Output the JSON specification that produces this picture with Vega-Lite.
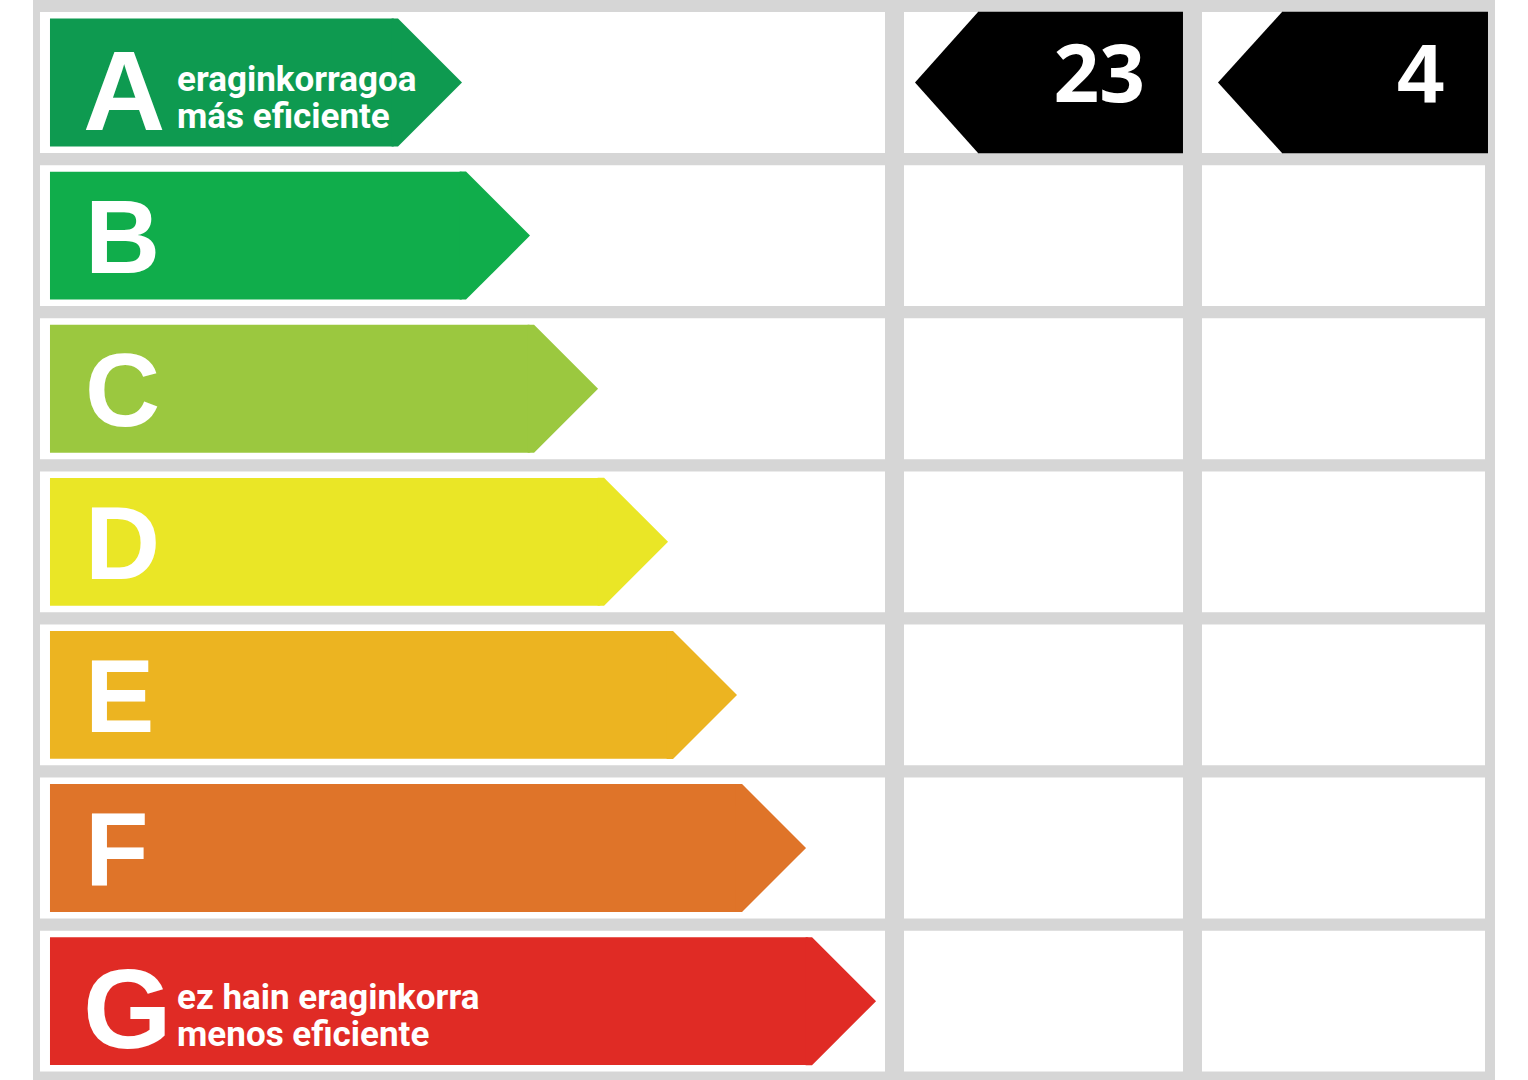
{
  "$schema": "https://vega.github.io/schema/vega-lite/v6.json",
  "background": "white",
  "padding": {"left": 33, "right": 33, "top": 0, "bottom": 0},
  "spacing": 0,
  "config": {"view": {"stroke": null, "fill": "#d6d6d6"}, "concat": {"spacing": 0}},
  "datasets": {
    "classes": [
      {"class": "A", "tip": 49.77, "line1": "eraginkorragoa", "line2": "más eficiente"},
      {"class": "B", "tip": 57.66, "line1": "", "line2": ""},
      {"class": "C", "tip": 65.55, "line1": "", "line2": ""},
      {"class": "D", "tip": 73.67, "line1": "", "line2": ""},
      {"class": "E", "tip": 81.67, "line1": "", "line2": ""},
      {"class": "F", "tip": 89.68, "line1": "", "line2": ""},
      {"class": "G", "tip": 97.8, "line1": "ez hain eraginkorra", "line2": "menos eficiente"}
    ],
    "ratings": [
      {"indicator": "consumo", "class": "A", "value": 23},
      {"indicator": "emisiones", "class": "A", "value": 4}
    ]
  },
  "hconcat": [
    {
      "width": 862,
      "height": 1080,
      "data": {"name": "classes"},
      "encoding": {
        "y": {"field": "class", "type": "nominal", "axis": null,
          "scale": {"domain": ["A", "B", "C", "D", "E", "F", "G"], "paddingInner": 0, "paddingOuter": 0.027, "align": 0.72}}
      },
      "layer": [
        {
          "mark": {"type": "bar", "height": {"band": 0.92}, "color": "white"},
          "encoding": {
            "x": {"datum": 0.81, "type": "quantitative", "scale": {"domain": [0, 100], "nice": false, "zero": false}, "axis": null},
            "x2": {"datum": 98.84, "type": "quantitative"}
          }
        },
        {
          "mark": {"type": "bar", "height": {"band": 0.835}, "cornerRadiusTopRight": 6, "cornerRadiusBottomRight": 6, "xOffset": -64},
          "encoding": {
            "x": {"field": "tip", "type": "quantitative", "scale": {"domain": [0, 100], "nice": false, "zero": false}, "axis": null},
            "x2": {"datum": 1.97, "type": "quantitative"},
            "color": {"field": "class", "type": "nominal", "legend": null,
              "scale": {"domain": ["A", "B", "C", "D", "E", "F", "G"], "range": ["#0e9a50", "#10ad4b", "#9bc83f", "#eae626", "#ecb421", "#df7429", "#e02b25"]}}
          }
        },
        {
          "mark": {"type": "point", "shape": "M-1.1,-1L-1,-1L0,0L-1,1L-1.1,1Z", "size": 16384, "filled": true, "opacity": 1, "strokeWidth": 0},
          "encoding": {
            "x": {"field": "tip", "type": "quantitative", "scale": {"domain": [0, 100], "nice": false, "zero": false}, "axis": null},
            "color": {"field": "class", "type": "nominal", "legend": null,
              "scale": {"domain": ["A", "B", "C", "D", "E", "F", "G"], "range": ["#0e9a50", "#10ad4b", "#9bc83f", "#eae626", "#ecb421", "#df7429", "#e02b25"]}}
          }
        },
        {
          "transform": [{"filter": {"field": "class", "oneOf": ["B", "C", "D", "E", "F"]}}],
          "mark": {"type": "text", "align": "left", "baseline": "alphabetic", "dy": 37, "font": "Liberation Sans", "fontWeight": "bold", "fontSize": 104, "color": "white"},
          "encoding": {
            "x": {"datum": 6.03, "type": "quantitative", "scale": {"domain": [0, 100], "nice": false, "zero": false}, "axis": null},
            "text": {"field": "class", "type": "nominal"}
          }
        },
        {
          "transform": [{"filter": {"field": "class", "oneOf": ["A", "G"]}}],
          "mark": {"type": "text", "align": "left", "baseline": "alphabetic", "dy": 47, "font": "Liberation Sans", "fontWeight": "bold", "fontSize": 114, "color": "white"},
          "encoding": {
            "x": {"datum": 5.8, "type": "quantitative", "scale": {"domain": [0, 100], "nice": false, "zero": false}, "axis": null},
            "text": {"field": "class", "type": "nominal"}
          }
        },
        {
          "transform": [{"filter": {"field": "class", "oneOf": ["A", "G"]}}],
          "mark": {"type": "text", "align": "left", "baseline": "alphabetic", "dy": 8, "font": "Roboto", "fontWeight": "bold", "fontSize": 35, "color": "white"},
          "encoding": {
            "x": {"datum": 16.71, "type": "quantitative", "scale": {"domain": [0, 100], "nice": false, "zero": false}, "axis": null},
            "text": {"field": "line1", "type": "nominal"}
          }
        },
        {
          "transform": [{"filter": {"field": "class", "oneOf": ["A", "G"]}}],
          "mark": {"type": "text", "align": "left", "baseline": "alphabetic", "dy": 45, "font": "Roboto", "fontWeight": "bold", "fontSize": 35, "color": "white"},
          "encoding": {
            "x": {"datum": 16.71, "type": "quantitative", "scale": {"domain": [0, 100], "nice": false, "zero": false}, "axis": null},
            "text": {"field": "line2", "type": "nominal"}
          }
        }
      ]
    },
    {
      "width": 298,
      "height": 1080,
      "encoding": {
        "y": {"field": "class", "type": "nominal", "axis": null,
          "scale": {"domain": ["A", "B", "C", "D", "E", "F", "G"], "paddingInner": 0, "paddingOuter": 0.027, "align": 0.72}}
      },
      "layer": [
        {
          "data": {"name": "classes"},
          "mark": {"type": "bar", "height": {"band": 0.92}, "color": "white"},
          "encoding": {
            "x": {"datum": 3.02, "type": "quantitative", "scale": {"domain": [0, 100], "nice": false, "zero": false}, "axis": null},
            "x2": {"datum": 96.64, "type": "quantitative"}
          }
        },
        {
          "data": {"name": "ratings"},
          "transform": [{"filter": "datum.indicator === 'consumo'"}],
          "mark": {"type": "bar", "height": {"band": 0.925}, "color": "black"},
          "encoding": {
            "x": {"datum": 27.85, "type": "quantitative", "scale": {"domain": [0, 100], "nice": false, "zero": false}, "axis": null},
            "x2": {"datum": 96.64, "type": "quantitative"}
          }
        },
        {
          "data": {"name": "ratings"},
          "transform": [{"filter": "datum.indicator === 'consumo'"}],
          "mark": {"type": "point", "shape": "M1.1,-1L0.894,-1L0,0L0.894,1L1.1,1Z", "size": 19881, "filled": true, "color": "black", "opacity": 1, "strokeWidth": 0},
          "encoding": {
            "x": {"datum": 6.71, "type": "quantitative", "scale": {"domain": [0, 100], "nice": false, "zero": false}, "axis": null}
          }
        },
        {
          "data": {"name": "ratings"},
          "transform": [{"filter": "datum.indicator === 'consumo'"}],
          "mark": {"type": "text", "align": "right", "baseline": "alphabetic", "dy": 19.5, "font": "Open Sans", "fontWeight": "bold", "fontSize": 80, "color": "white"},
          "encoding": {
            "x": {"datum": 83.9, "type": "quantitative", "scale": {"domain": [0, 100], "nice": false, "zero": false}, "axis": null},
            "text": {"field": "value", "type": "quantitative"}
          }
        }
      ]
    },
    {
      "width": 302,
      "height": 1080,
      "encoding": {
        "y": {"field": "class", "type": "nominal", "axis": null,
          "scale": {"domain": ["A", "B", "C", "D", "E", "F", "G"], "paddingInner": 0, "paddingOuter": 0.027, "align": 0.72}}
      },
      "layer": [
        {
          "data": {"name": "classes"},
          "mark": {"type": "bar", "height": {"band": 0.92}, "color": "white"},
          "encoding": {
            "x": {"datum": 2.98, "type": "quantitative", "scale": {"domain": [0, 100], "nice": false, "zero": false}, "axis": null},
            "x2": {"datum": 96.69, "type": "quantitative"}
          }
        },
        {
          "data": {"name": "ratings"},
          "transform": [{"filter": "datum.indicator === 'emisiones'"}],
          "mark": {"type": "bar", "height": {"band": 0.925}, "color": "black"},
          "encoding": {
            "x": {"datum": 29.47, "type": "quantitative", "scale": {"domain": [0, 100], "nice": false, "zero": false}, "axis": null},
            "x2": {"datum": 97.68, "type": "quantitative"}
          }
        },
        {
          "data": {"name": "ratings"},
          "transform": [{"filter": "datum.indicator === 'emisiones'"}],
          "mark": {"type": "point", "shape": "M1.1,-1L0.908,-1L0,0L0.908,1L1.1,1Z", "size": 19881, "filled": true, "color": "black", "opacity": 1, "strokeWidth": 0},
          "encoding": {
            "x": {"datum": 8.28, "type": "quantitative", "scale": {"domain": [0, 100], "nice": false, "zero": false}, "axis": null}
          }
        },
        {
          "data": {"name": "ratings"},
          "transform": [{"filter": "datum.indicator === 'emisiones'"}],
          "mark": {"type": "text", "align": "right", "baseline": "alphabetic", "dy": 20.5, "font": "Liberation Sans", "fontWeight": "bold", "fontSize": 84, "color": "white"},
          "encoding": {
            "x": {"datum": 83.0, "type": "quantitative", "scale": {"domain": [0, 100], "nice": false, "zero": false}, "axis": null},
            "text": {"field": "value", "type": "quantitative"}
          }
        }
      ]
    }
  ]
}
